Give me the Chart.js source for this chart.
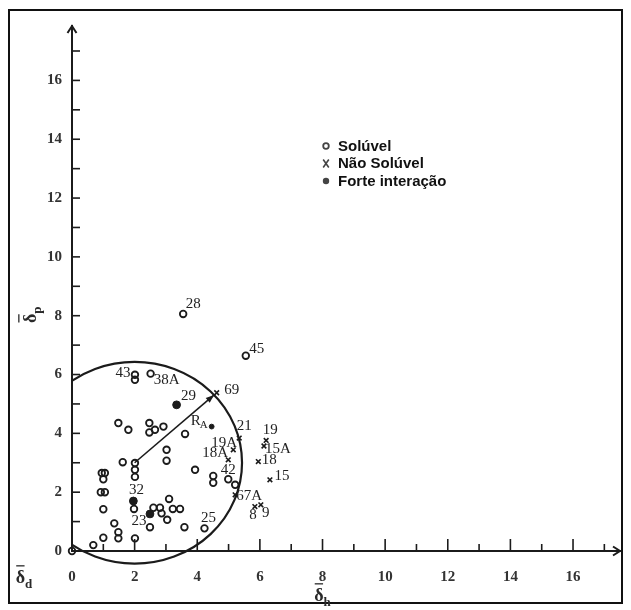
<!DOCTYPE html>
<html>
<head>
<meta charset="utf-8">
<script src="https://cdn.jsdelivr.net/npm/chart.js@4.4.1/dist/chart.umd.min.js"></script>
<style>
  html, body { margin: 0; padding: 0; background: #fff; }
  #wrap { width: 631px; height: 610px; }
</style>
</head>
<body>
<div id="wrap"><canvas id="c" width="631" height="610"></canvas></div>
<script>
// Partial solubility parameters: δh on the x axis, δp on the y axis.

// Soluble solvents (open circles)
const solubleX = [0, 0.68, 1.0, 1.48, 1.48, 1.35, 2.01, 2.49, 3.59, 4.23,
                  3.04, 2.6, 2.81, 2.86, 3.22, 3.45, 3.1, 1.98, 1.0, 0.92,
                  1.05, 0.95, 1.05, 1.0, 1.62, 2.01, 2.01, 2.01, 3.02, 3.02,
                  3.93, 4.51, 4.51, 4.99, 5.21, 1.48, 1.8, 2.47, 2.47, 2.65,
                  2.92, 3.61, 2.01, 2.01, 2.51, 3.55, 5.55];
const solubleY = [0, 0.2, 0.45, 0.43, 0.64, 0.94, 0.43, 0.81, 0.81, 0.77,
                  1.06, 1.47, 1.47, 1.28, 1.43, 1.43, 1.77, 1.43, 1.42, 2.0,
                  2.0, 2.65, 2.65, 2.44, 3.02, 2.99, 2.76, 2.52, 3.44, 3.07,
                  2.76, 2.55, 2.32, 2.44, 2.25, 4.35, 4.12, 4.35, 4.03, 4.12,
                  4.23, 3.98, 5.99, 5.82, 6.03, 8.06, 6.64];
const solubleLabels = ['', '', '', '', '', '', '', '', '', '25',
                       '', '', '', '', '', '', '', '', '', '',
                       '', '', '', '', '', '', '', '', '', '',
                       '', '', '', '42', '', '', '', '', '', '',
                       '', '', '43', '', '38A', '28', '45'];

// Non-solvents (crosses)
const insolubleX = [4.62, 5.34, 6.2, 6.13, 5.15, 4.99, 5.95, 6.32, 5.21, 5.84, 6.03];
const insolubleY = [5.38, 3.84, 3.76, 3.57, 3.44, 3.1, 3.04, 2.42, 1.91, 1.51, 1.57];
const insolubleLabels = ['69', '21', '19', '15A', '19A', '18A', '18', '15', '67A', '8', '9'];

// Strong interaction (filled circles)
const strongX = [3.34, 1.96, 2.49];
const strongY = [4.97, 1.70, 1.26];
const strongLabels = ['29', '32', '23'];

// Solubility sphere: centre, radius and the point marking R_A
const sphereCenter = [2.0, 3.0];
const sphereRadius = 3.43;
const raX = [4.46];
const raY = [4.23];

// Axis ticks
const majorTicks = [0, 2, 4, 6, 8, 10, 12, 14, 16];
const minorTicks = [1, 3, 5, 7, 9, 11, 13, 15, 17];

const legendItems = ['Solúvel', 'Não Solúvel', 'Forte interação'];

// label text offsets (pixels, text centre relative to the marker)
const labelOffset = {
  '28': [10, -10], '45': [11, -7], '43': [-12, -2], '38A': [16, 6], '29': [12, -9],
  '69': [15, -3], '21': [5, -12], '19': [4, -10], '15A': [14, 3], '19A': [-9, -7],
  '18A': [-13, -7], '18': [11, -2], '42': [0, -9], '15': [12, -4], '67A': [14, 1],
  '8': [-2, 8], '9': [5, 8], '32': [3, -11], '23': [-11, 7], '25': [4, -10]
};

const INK = '#1b1b1b';
const SERIF = '"Liberation Serif", "DejaVu Serif", serif';
const SANS = '"Liberation Sans", Arial, sans-serif';

const pts = (xs, ys) => xs.map((x, i) => ({ x, y: ys[i] }));

function drawDeltaBar(ctx, x, y, sub, size) {
  // δ with an overbar and a subscript, centred on (x, y)
  ctx.font = 'bold ' + size + 'px ' + SERIF;
  const wd = ctx.measureText('δ').width;
  ctx.font = 'bold ' + Math.round(size * 0.72) + 'px ' + SERIF;
  const ws = ctx.measureText(sub).width;
  const left = x - (wd + ws) / 2;
  ctx.textBaseline = 'alphabetic';
  ctx.textAlign = 'left';
  ctx.font = 'bold ' + size + 'px ' + SERIF;
  ctx.fillText('δ', left, y + size * 0.35);
  ctx.font = 'bold ' + Math.round(size * 0.72) + 'px ' + SERIF;
  ctx.fillText(sub, left + wd, y + size * 0.6);
  ctx.lineWidth = 1.3;
  ctx.beginPath();
  ctx.moveTo(left + 0.5, y - size * 0.62);
  ctx.lineTo(left + wd - 0.5, y - size * 0.62);
  ctx.stroke();
}

const decorations = {
  id: 'decorations',
  beforeDraw(chart) {
    const { ctx, width, height } = chart;
    ctx.save();
    ctx.fillStyle = '#fff';
    ctx.fillRect(0, 0, width, height);
    ctx.restore();
  },
  beforeDatasetsDraw(chart) {
    const { ctx, chartArea: a, scales: { x, y } } = chart;
    ctx.save();
    // solubility sphere, cut off at the δp axis
    const cx = x.getPixelForValue(sphereCenter[0]);
    const cy = y.getPixelForValue(sphereCenter[1]);
    const rx = x.getPixelForValue(sphereCenter[0] + sphereRadius) - cx;
    const ry = cy - y.getPixelForValue(sphereCenter[1] + sphereRadius);
    ctx.beginPath();
    ctx.rect(a.left, 0, chart.width - a.left, chart.height);
    ctx.clip();
    ctx.strokeStyle = INK;
    ctx.lineWidth = 2.2;
    ctx.beginPath();
    ctx.ellipse(cx, cy, rx, ry, 0, 0, Math.PI * 2);
    ctx.stroke();

    // radius vector towards solvent 69
    const dx = insolubleX[0] - sphereCenter[0];
    const dy = insolubleY[0] - sphereCenter[1];
    const len = Math.hypot(dx, dy);
    const ex = x.getPixelForValue(sphereCenter[0] + dx / len * sphereRadius);
    const ey = y.getPixelForValue(sphereCenter[1] + dy / len * sphereRadius);
    ctx.lineWidth = 1.6;
    ctx.beginPath();
    ctx.moveTo(cx, cy);
    ctx.lineTo(ex, ey);
    ctx.stroke();
    const ang = Math.atan2(ey - cy, ex - cx);
    ctx.fillStyle = INK;
    ctx.beginPath();
    ctx.moveTo(ex, ey);
    ctx.lineTo(ex - 9 * Math.cos(ang - 0.35), ey - 9 * Math.sin(ang - 0.35));
    ctx.lineTo(ex - 9 * Math.cos(ang + 0.35), ey - 9 * Math.sin(ang + 0.35));
    ctx.closePath();
    ctx.fill();
    ctx.restore();
  },
  afterDraw(chart) {
    const { ctx, chartArea: a, scales: { x, y } } = chart;
    ctx.save();
    // outer frame
    ctx.strokeStyle = '#111';
    ctx.lineWidth = 2;
    ctx.strokeRect(9, 10, 613, 593);

    // inward tick marks
    ctx.strokeStyle = INK;
    ctx.lineWidth = 1.6;
    const x0 = x.getPixelForValue(0);
    const y0 = y.getPixelForValue(0);
    majorTicks.concat(minorTicks).forEach(v => {
      if (v === 0) return;
      const major = v % 2 === 0;
      const px = x.getPixelForValue(v);
      ctx.beginPath();
      ctx.moveTo(px, y0);
      ctx.lineTo(px, y0 - (major ? 12 : 7));
      ctx.stroke();
      const py = y.getPixelForValue(v);
      ctx.beginPath();
      ctx.moveTo(x0, py);
      ctx.lineTo(x0 + 8, py);
      ctx.stroke();
    });

    // axis arrow heads
    ctx.lineWidth = 2;
    ctx.beginPath();
    ctx.moveTo(x0 - 4.5, a.top + 7);
    ctx.lineTo(x0, a.top);
    ctx.lineTo(x0 + 4.5, a.top + 7);
    ctx.stroke();
    ctx.beginPath();
    ctx.moveTo(a.right - 7, y0 - 4.5);
    ctx.lineTo(a.right, y0);
    ctx.lineTo(a.right - 7, y0 + 4.5);
    ctx.stroke();

    // axis symbols
    ctx.fillStyle = '#2a2a2a';
    ctx.strokeStyle = '#2a2a2a';
    drawDeltaBar(ctx, x.getPixelForValue(8), 595, 'h', 18);
    drawDeltaBar(ctx, 24, 577, 'd', 18);
    ctx.save();
    ctx.translate(30, y.getPixelForValue(8) - 1);
    ctx.rotate(-Math.PI / 2);
    drawDeltaBar(ctx, 0, 0, 'p', 18);
    ctx.restore();

    // point labels
    ctx.fillStyle = '#222';
    ctx.font = '15px ' + SERIF;
    ctx.textAlign = 'center';
    ctx.textBaseline = 'middle';
    const labelSet = (xs, ys, labels) => labels.forEach((t, i) => {
      if (!t) return;
      const o = labelOffset[t] || [8, -8];
      ctx.fillText(t, x.getPixelForValue(xs[i]) + o[0], y.getPixelForValue(ys[i]) + o[1]);
    });
    labelSet(solubleX, solubleY, solubleLabels);
    labelSet(insolubleX, insolubleY, insolubleLabels);
    labelSet(strongX, strongY, strongLabels);
    const rpx = x.getPixelForValue(raX[0]);
    const rpy = y.getPixelForValue(raY[0]);
    ctx.fillText('R', rpx - 16, rpy - 6);
    ctx.font = '11px ' + SERIF;
    ctx.fillText('A', rpx - 8, rpy - 1);

    // legend
    const lx = 326, ly = 146, step = 17.5;
    ctx.strokeStyle = '#444';
    ctx.fillStyle = '#444';
    ctx.lineWidth = 1.8;
    ctx.beginPath();
    ctx.arc(lx, ly, 2.8, 0, Math.PI * 2);
    ctx.stroke();
    ctx.lineWidth = 1.6;
    ctx.beginPath();
    ctx.moveTo(lx - 2.8, ly + step - 4);
    ctx.lineTo(lx + 2.8, ly + step + 4);
    ctx.moveTo(lx + 2.8, ly + step - 4);
    ctx.lineTo(lx - 2.8, ly + step + 4);
    ctx.stroke();
    ctx.beginPath();
    ctx.arc(lx, ly + 2 * step, 3.2, 0, Math.PI * 2);
    ctx.fill();
    ctx.fillStyle = '#111';
    ctx.font = 'bold 15px ' + SANS;
    ctx.textAlign = 'left';
    ctx.textBaseline = 'middle';
    legendItems.forEach((t, i) => ctx.fillText(t, lx + 12, ly + i * step + 0.5));
    ctx.restore();
  }
};

const tickFont = { family: SERIF, size: 15, weight: 'bold' };
const evenLabel = v => (majorTicks.includes(v) ? String(v) : '');

new Chart(document.getElementById('c'), {
  type: 'scatter',
  data: {
    datasets: [
      {
        label: legendItems[0],
        data: pts(solubleX, solubleY),
        pointStyle: 'circle',
        pointRadius: 3.3,
        pointBorderWidth: 1.8,
        borderColor: INK,
        backgroundColor: 'rgba(255,255,255,0)',
        clip: false
      },
      {
        label: legendItems[1],
        data: pts(insolubleX, insolubleY),
        pointStyle: 'crossRot',
        pointRadius: 3.3,
        pointBorderWidth: 1.6,
        borderColor: INK,
        backgroundColor: INK,
        clip: false
      },
      {
        label: legendItems[2],
        data: pts(strongX, strongY),
        pointStyle: 'circle',
        pointRadius: 3.9,
        pointBorderWidth: 1,
        borderColor: INK,
        backgroundColor: INK,
        clip: false
      },
      {
        label: 'RA',
        data: pts(raX, raY),
        pointStyle: 'circle',
        pointRadius: 2.4,
        pointBorderWidth: 1,
        borderColor: INK,
        backgroundColor: INK,
        clip: false
      }
    ]
  },
  options: {
    responsive: false,
    animation: false,
    devicePixelRatio: 1,
    layout: { padding: { top: 26, right: 11, left: 0, bottom: 0 } },
    plugins: { legend: { display: false }, tooltip: { enabled: false } },
    elements: { point: { hoverRadius: 3 } },
    scales: {
      x: {
        type: 'linear',
        min: 0,
        max: 17.5,
        afterFit(s) { s.height = 59; },
        grid: { display: true, drawOnChartArea: false, drawTicks: false },
        border: { display: true, color: INK, width: 2 },
        ticks: { stepSize: 2, includeBounds: false, autoSkip: false, maxRotation: 0, font: tickFont, color: '#333', padding: 17, callback: evenLabel }
      },
      y: {
        type: 'linear',
        min: 0,
        max: 17.85,
        afterFit(s) { s.width = 72; },
        grid: { display: true, drawOnChartArea: false, drawTicks: false },
        border: { display: true, color: INK, width: 2 },
        ticks: { stepSize: 2, includeBounds: false, autoSkip: false, font: tickFont, color: '#333', padding: 10, callback: evenLabel }
      }
    }
  },
  plugins: [decorations]
});
</script>
</body>
</html>
